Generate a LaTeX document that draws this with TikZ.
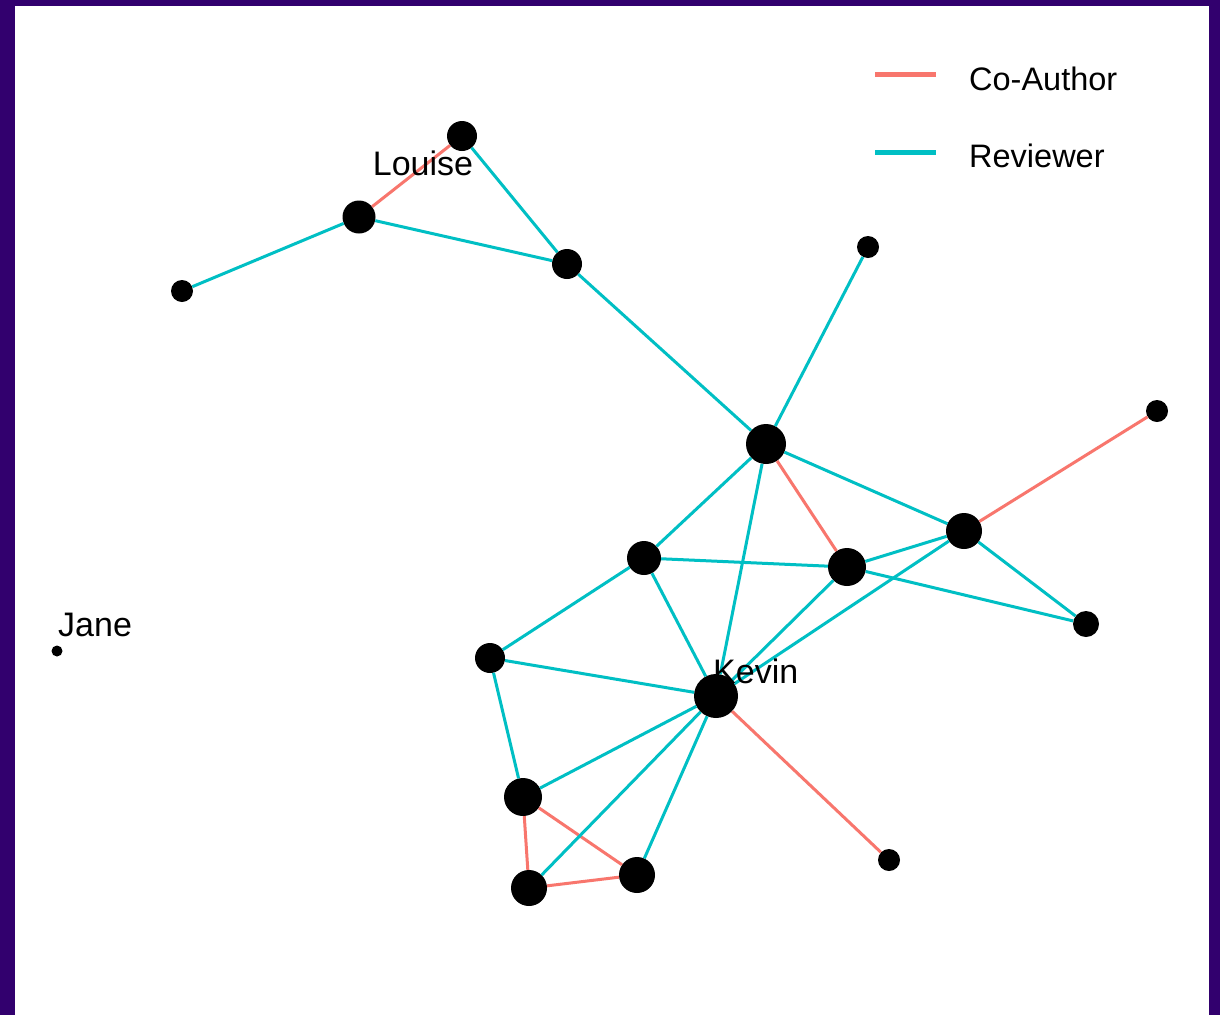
\documentclass[tikz,border=0pt]{standalone}
\usepackage{fontspec}
\setmainfont{Liberation Sans}
\usepackage{tikz}
\definecolor{framecol}{RGB}{50,0,110}
\definecolor{coauth}{RGB}{248,118,109}
\definecolor{review}{RGB}{0,191,196}
\tikzset{vtx/.style={circle,fill=black,inner sep=0pt,minimum size=#1pt},
	lbl/.style={inner sep=0pt,font=\fontsize{34}{40}\selectfont},
	keytext/.style={inner sep=0pt,font=\fontsize{32.5}{38}\selectfont}}

\begin{document}
\begin{tikzpicture}[x=1pt,y=-1pt]
	\fill[framecol] (0,0) rectangle (1220,1015);
	\fill[white] (15,6) rectangle (1209,1015);
	\useasboundingbox (0,0) rectangle (1220,1015);
	\foreach \n/\px/\py/\s in {a/462/136/30, b/359/217/33, c/182/291/22, d/567/264/30, e/868/247/22, f/766/444/40, g/1157/411/22, h/964/531/36, i/644/558/34, j/847/567/38, k/1086/624/26, jane/57/651/11, l/490/658/30, kevin/716/696/44, m/523/797/38, n/529/888/36, o/637/875/36, p/889/860/22}
		\node[vtx=\s] (\n) at (\px,\py) {};
	\foreach \u/\v in {a/b, f/j, h/g, kevin/p, m/n, m/o, n/o}
		\draw[coauth, line width=3pt] (\u) -- (\v);
	\foreach \u/\v in {a/d, b/c, b/d, d/f, e/f, f/h, f/i, f/kevin, i/j, j/h, j/k, h/k, h/kevin, j/kevin, i/l, i/kevin, l/kevin, l/m, m/kevin, n/kevin, o/kevin}
		\draw[review, line width=3pt] (\u) -- (\v);
	\coordinate (co1) at (875,74);
	\coordinate (co2) at (936,74);
	\coordinate (rv1) at (875,152);
	\coordinate (rv2) at (936,152);
	\draw[coauth, line width=5pt] (co1) -- (co2);
	\draw[review, line width=5pt] (rv1) -- (rv2);
	\node[keytext, anchor=base west] (cokey) at (969,90) {Co-Author};
	\node[keytext, anchor=base west] (rvkey) at (969,167) {Reviewer};
	\node[lbl, anchor=base] (louiselbl) at (423,175) {Louise};
	\node[lbl, anchor=base west] (kevinlbl) at (713,683) {Kevin};
	\node[lbl, anchor=base west] (janelbl) at (58,636) {Jane};
\end{tikzpicture}
\end{document}
